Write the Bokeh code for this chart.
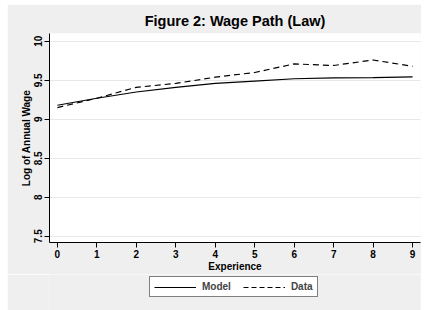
from bokeh.plotting import figure
from bokeh.layouts import column
from bokeh.models import Legend, LegendItem, FixedTicker, Range1d
from bokeh.embed import file_html
from bokeh.resources import INLINE

experience = [0, 1, 2, 3, 4, 5, 6, 7, 8, 9]
model = [9.18, 9.27, 9.35, 9.41, 9.46, 9.49, 9.52, 9.53, 9.535, 9.545]
data = [9.15, 9.27, 9.41, 9.46, 9.54, 9.60, 9.71, 9.69, 9.76, 9.68]
y_ticks = [7.5, 8, 8.5, 9, 9.5, 10]
x_ticks = list(range(10))
series_names = ["Model", "Data"]

FONT = "Liberation Sans"
BG = "#EFEFEF"

p = figure(width=414, height=270, output_backend="svg", toolbar_location=None,
           x_range=Range1d(-0.2, 9.2), y_range=Range1d(7.42, 10.1),
           min_border_left=42, min_border_right=1, min_border_top=29, min_border_bottom=31,
           background_fill_color="white", border_fill_color=BG)
p.margin = (4, 4, 0, 7)
p.outline_line_color = None

p.title.text = "Figure 2: Wage Path (Law)"
p.title.align = "center"
p.title.text_font = FONT
p.title.text_font_size = "14.5px"
p.title.text_font_style = "bold"
p.title.text_color = "black"

p.line(experience, model, line_color="black", line_width=1.2)
p.line(experience, data, line_color="black", line_width=1.2, line_dash="6 4")

p.xgrid.visible = False
p.ygrid.grid_line_color = "#E8E8E8"
p.ygrid.grid_line_width = 1

for ax in (p.xaxis[0], p.yaxis[0]):
    ax.axis_line_color = "black"
    ax.major_tick_line_color = "black"
    ax.minor_tick_line_color = None
    ax.major_tick_out = 5
    ax.major_tick_in = 0
    ax.major_label_text_font = FONT
    ax.major_label_text_font_size = "10px"
    ax.major_label_text_font_style = "bold"
    ax.major_label_text_color = "black"
    ax.axis_label_text_font = FONT
    ax.axis_label_text_font_size = "10px"
    ax.axis_label_text_font_style = "bold"
    ax.axis_label_text_color = "black"

p.xaxis.ticker = FixedTicker(ticks=x_ticks)
p.yaxis.ticker = FixedTicker(ticks=y_ticks)
p.yaxis.major_label_overrides = {7.5: "7.5", 8: "8", 8.5: "8.5", 9: "9", 9.5: "9.5", 10: "10"}
p.yaxis.major_label_orientation = "vertical"
p.xaxis.axis_label = "Experience"
p.yaxis.axis_label = "Log of Annual Wage"
p.xaxis.major_label_standoff = 2
p.yaxis.major_label_standoff = 2
p.xaxis.axis_label_standoff = 0
p.yaxis.axis_label_standoff = 0

# legend strip below the chart (its lines lie outside its own view)
q = figure(width=414, height=36, output_backend="svg", toolbar_location=None,
           x_range=Range1d(0, 1), y_range=Range1d(0, 1), min_border=0,
           background_fill_color=BG, border_fill_color=BG)
q.margin = (0, 4, 0, 7)
q.outline_line_color = None
q.axis.visible = False
q.grid.visible = False
l1 = q.line(experience, model, line_color="black", line_width=1.2)
l2 = q.line(experience, data, line_color="black", line_width=1.2, line_dash="5 3")

legend = Legend(items=[LegendItem(label=series_names[0], renderers=[l1]),
                       LegendItem(label=series_names[1], renderers=[l2])],
                orientation="horizontal", location=(100, 13))
legend.label_text_font = FONT
legend.label_text_font_size = "10px"
legend.label_text_font_style = "bold"
legend.border_line_color = "black"
legend.border_line_width = 1
legend.background_fill_color = "white"
legend.background_fill_alpha = 1
legend.glyph_width = 42
legend.glyph_height = 10
legend.label_height = 10
legend.label_standoff = 6
legend.spacing = 12
legend.padding = 4
legend.margin = 0
q.add_layout(legend, "center")

open("out.html", "w").write(file_html(column(p, q, spacing=0), INLINE))
